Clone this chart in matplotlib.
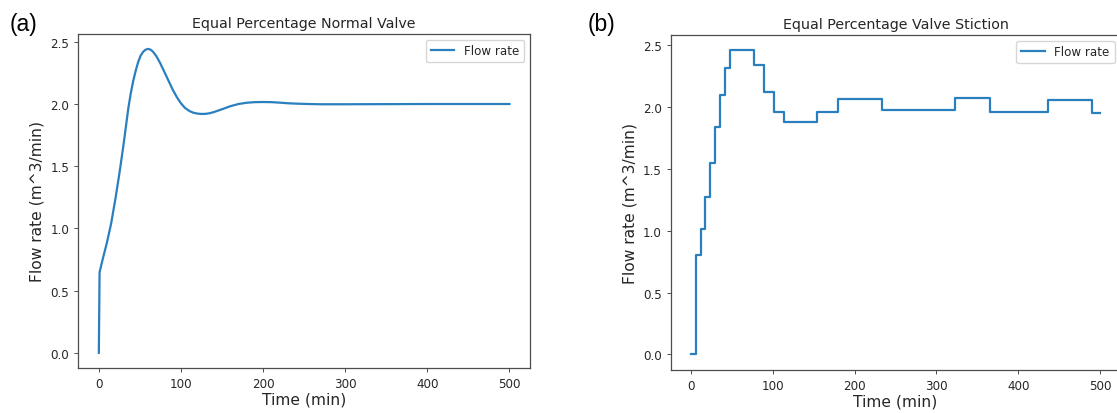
import matplotlib
matplotlib.use("Agg")
import matplotlib.pyplot as plt

# Left panel: smooth response
t_normal = [0, 0.9, 5, 10, 15, 20, 25, 30, 33, 36, 39, 42, 45, 48, 51, 54, 57, 60,
            63, 66, 70, 75, 80, 85, 90, 95, 100, 105, 110, 115, 120, 125, 130, 135,
            140, 150, 160, 170, 180, 190, 200, 210, 220, 230, 240, 255, 270, 300,
            350, 400, 450, 500]
q_normal = [0.0, 0.647, 0.76, 0.89, 1.04, 1.23, 1.44, 1.67, 1.82, 1.97, 2.09, 2.19,
            2.27, 2.34, 2.39, 2.42, 2.437, 2.443, 2.437, 2.42, 2.385, 2.325, 2.255,
            2.185, 2.115, 2.055, 2.005, 1.968, 1.945, 1.93, 1.923, 1.92, 1.921, 1.926,
            1.935, 1.958, 1.982, 2.0, 2.01, 2.015, 2.016, 2.015, 2.011, 2.006, 2.003,
            2.0, 1.998, 1.998, 1.999, 2.0, 2.0, 2.0]

# Right panel: stiction step response (step-post)
t_stiction = [0, 5.5, 11.5, 17.5, 23.5, 29.5, 35.5, 41.5, 48, 77, 88.5, 101, 113.5,
              154.5, 179, 233, 323, 365, 436.5, 490.5, 500]
q_stiction = [0.0, 0.80, 1.015, 1.27, 1.55, 1.836, 2.098, 2.315, 2.46, 2.34, 2.122,
              1.962, 1.874, 1.962, 2.062, 1.972, 2.072, 1.959, 2.055, 1.949, 1.949]

titles = ["Equal Percentage Normal Valve", "Equal Percentage Valve Stiction"]
panel_labels = ["(a)", "(b)"]
xlabel = "Time (min)"
ylabel = "Flow rate (m^3/min)"
legend_label = "Flow rate"

W, H = 1117, 414
fig = plt.figure(figsize=(W / 100, H / 100), dpi=100)

TXT = "#262626"
SP = "#4d4d4d"
LINE = "#2a7fbf"
plt.rcParams["text.color"] = TXT
plt.rcParams["axes.labelcolor"] = TXT
plt.rcParams["xtick.color"] = SP
plt.rcParams["ytick.color"] = SP
plt.rcParams["xtick.labelcolor"] = TXT
plt.rcParams["ytick.labelcolor"] = TXT

def px_axes(l, r, t, b):
    return [l / W, (H - b) / H, (r - l) / W, (b - t) / H]

ax1 = fig.add_axes(px_axes(78.3, 530, 34.7, 369))
ax2 = fig.add_axes(px_axes(670.7, 1120.5, 35.7, 370.7))

ax1.plot(t_normal, q_normal, color=LINE, lw=1.6, label=legend_label)
ax2.plot(t_stiction, q_stiction, color=LINE, lw=1.6, drawstyle="steps-post",
         label=legend_label)

for ax, title in zip([ax1, ax2], titles):
    ax.set_title(title, fontsize=10.3, pad=5)
    ax.set_xlabel(xlabel, fontsize=11.2, labelpad=1)
    ax.set_ylabel(ylabel, fontsize=11.2, labelpad=4)
    ax.set_xticks([0, 100, 200, 300, 400, 500])
    ax.set_yticks([0.0, 0.5, 1.0, 1.5, 2.0, 2.5])
    ax.tick_params(labelsize=8.6, width=0.7, length=3)
    for s in ax.spines.values():
        s.set_color(SP)
        s.set_linewidth(0.9)
    ax.legend(loc="upper right", fontsize=8.6)

ax1.set_xlim(-25, 525)
ax1.set_ylim(-0.1222, 2.5652)
ax2.set_xlim(-25, 525)
ax2.set_ylim(-0.123, 2.583)

fig.text(10 / W, 1 - 24 / H, panel_labels[0], fontsize=16.5, family="Liberation Sans",
         va="center", ha="left", color="black")
fig.text(587.5 / W, 1 - 24 / H, panel_labels[1], fontsize=16.5, family="Liberation Sans",
         va="center", ha="left", color="black")

fig.savefig("out.png", dpi=100)
